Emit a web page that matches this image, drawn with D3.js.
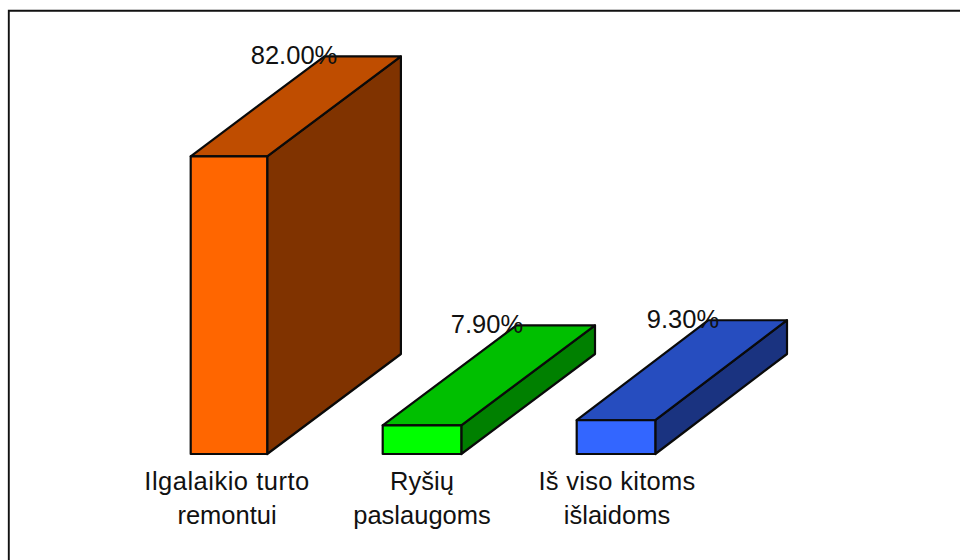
<!DOCTYPE html>
<html><head><meta charset="utf-8">
<script src="https://cdn.jsdelivr.net/npm/d3@7/dist/d3.min.js"></script>
<style>html,body{margin:0;padding:0;background:#fff}svg{display:block}</style>
</head><body><svg id="c" width="960" height="560"></svg>
<script>
const categories = [["Ilgalaikio turto","remontui"],["Ryšių","paslaugoms"],["Iš viso kitoms","išlaidoms"]];
const values = [82.0, 7.9, 9.3];
const valueLabels = ["82.00%","7.90%","9.30%"];
const frontColors = ["#ff6600","#00ff00","#3366ff"];
const topColors = ["#bf4d00","#00bf00","#264dbf"];
const sideColors = ["#803300","#008000","#1a3380"];

const svg = d3.select("#c");
svg.append("path").attr("d","M8.8,560V10.7H960").attr("fill","none").attr("stroke","#111").attr("stroke-width",1.9);

const idx = d3.range(values.length);
const left = d3.scaleOrdinal().domain(idx).range([190.7,382.7,576.7]);
const right = d3.scaleOrdinal().domain(idx).range([267.2,461.3,655.3]);
const depth = d3.scaleOrdinal().domain(idx).range([133.7,133.7,131.7]);
const labelX = d3.scaleOrdinal().domain(idx).range([294,487,683]);
const catX = d3.scaleOrdinal().domain(idx).range([227,422,617]);
const catSpacing = d3.scaleOrdinal().domain(["Ilgalaikio turto","Iš viso kitoms"]).range([0.5,0.3]).unknown(0);
const y = d3.scaleLinear().domain([0,82]).range([454,156.3]);
const dy = -100;
const font = "'Liberation Sans', Arial, sans-serif";

const line = d3.line();
const style = s => s.attr("stroke","#0a0a0a").attr("stroke-width",2.2).attr("stroke-linejoin","round");
svg.selectAll("g.bar").data(values).join("g").attr("class","bar").each(function(v,i){
  const s = d3.select(this), x0 = left(i), x1 = right(i), dx = depth(i), y0 = y(0), y1 = y(v);
  s.append("path").attr("d",line([[x1,y1],[x1+dx,y1+dy],[x1+dx,y0+dy],[x1,y0]])+"Z").attr("fill",sideColors[i]).call(style);
  s.append("path").attr("d",line([[x0,y1],[x0+dx,y1+dy],[x1+dx,y1+dy],[x1,y1]])+"Z").attr("fill",topColors[i]).call(style);
  s.append("path").attr("d",line([[x0,y0],[x0,y1],[x1,y1],[x1,y0]])+"Z").attr("fill",frontColors[i]).call(style);
  s.append("text").attr("x",labelX(i)).attr("y",y1+dy+8).attr("text-anchor","middle")
    .attr("font-family",font).attr("font-size",25.5).attr("fill","#111").text(valueLabels[i]);
  categories[i].forEach((t,j)=>s.append("text").attr("x",catX(i)).attr("y",490+j*33.5)
    .attr("text-anchor","middle").attr("font-family",font).attr("font-size",25.5)
    .attr("letter-spacing",catSpacing(t)).attr("fill","#111").text(t));
});
</script></body></html>
